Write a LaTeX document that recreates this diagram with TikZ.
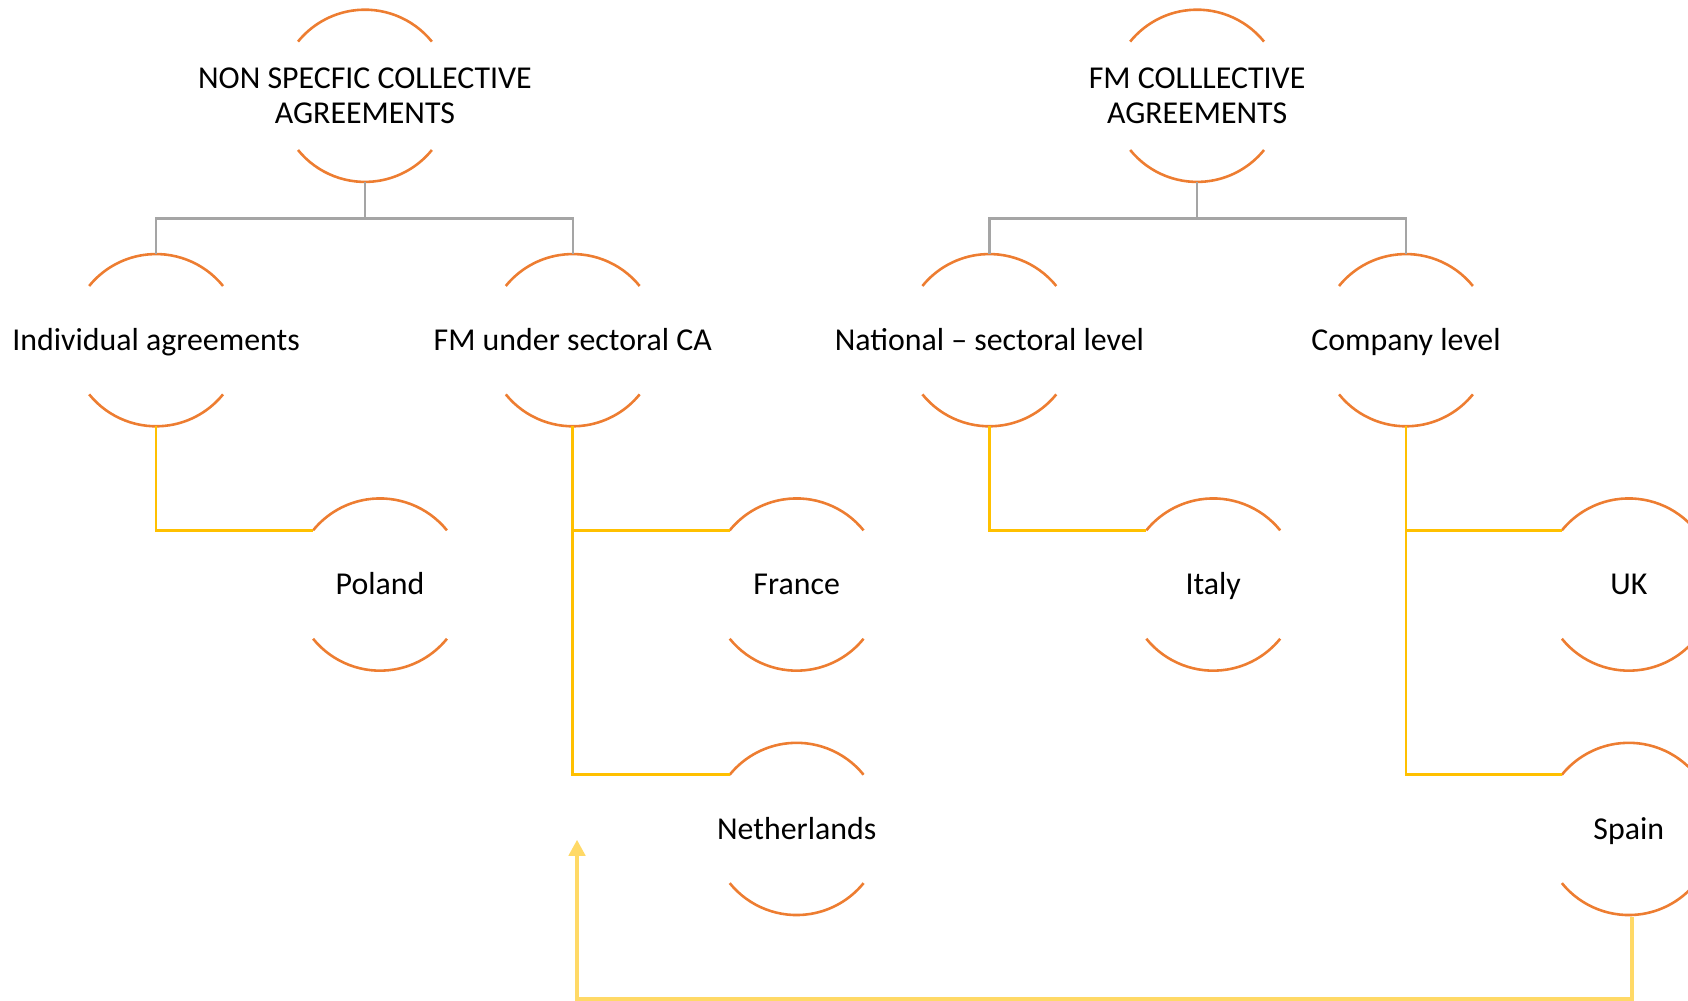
\documentclass[tikz,border=0pt]{standalone}
\usepackage{fontspec}
\setmainfont{Carlito}
\usetikzlibrary{arrows.meta, positioning}

\definecolor{arcorange}{HTML}{ED7D31}
\definecolor{linegray}{HTML}{A5A5A5}
\definecolor{lineyellow}{HTML}{FFC000}
\definecolor{lightyellow}{HTML}{FFD966}

\tikzset{
  ring/.style={circle, minimum size=80pt, inner sep=0pt, outer sep=0pt},
  head/.style={align=center, inner sep=0pt},
  txt/.style={align=center, inner sep=0pt, text height=12pt, text depth=2.6pt},
  arcline/.style={arcorange, line width=1.2pt},
  grayline/.style={linegray, line width=1.1pt},
  yline/.style={lineyellow, line width=1.25pt},
  backarrow/.style={lightyellow, line width=2pt, -{Triangle[width=7.5pt, length=7.5pt]}}
}

\begin{document}
\begin{tikzpicture}[x=0.5pt, y=-0.5pt, font=\fontsize{14.8}{16.5}\selectfont]
\useasboundingbox (0,0) rectangle (1568,929);

% Rings with their texts
\foreach \n/\x/\y/\s/\t in {
    nsc/339/89/head/{NON SPECFIC COLLECTIVE\\AGREEMENTS},
    fmc/1112/89/head/{FM COLLLECTIVE\\AGREEMENTS},
    ind/145/316/txt/{Individual agreements},
    sec/532/316/txt/{FM under sectoral CA},
    nat/919/316/txt/{National -- sectoral level},
    com/1306/316/txt/{Company level},
    pol/353/543/txt/{Poland},
    fra/740/543/txt/{France},
    ita/1127/543/txt/{Italy},
    uk/1513/543/txt/{UK},
    ned/740/770/txt/{Netherlands},
    spa/1513/770/txt/{Spain}} {
    \node[ring] (\n) at (\x,\y) {};
    \node[\s] (\n-t) at (\n) {\t};
    \draw[arcline] (\n.39) arc[start angle=39, end angle=141, radius=40pt];
    \draw[arcline] (\n.219) arc[start angle=219, end angle=321, radius=40pt];
}

% Top level branches
\draw[grayline] (nsc.south) -- ++(0,34) -| (ind.north);
\draw[grayline] (nsc.south) -- ++(0,34) -| (sec.north);
\draw[grayline] (fmc.south) -- ++(0,34) -| (nat.north);
\draw[grayline] (fmc.south) -- ++(0,34) -| (com.north);

% Countries
\draw[yline] (ind.south) |- (pol.141);
\draw[yline] (sec.south) |- (fra.141);
\draw[yline] (sec.south) |- (ned.141);
\draw[yline] (nat.south) |- (ita.141);
\draw[yline] (com.south) |- (uk.141);
\draw[yline] (com.south) |- (spa.141);

% Back arrow
\coordinate (tip) at (536,780);
\draw[backarrow] ([xshift=1.5pt, yshift=-1pt]spa.south) -- ++(0,76) -| (tip);

\end{tikzpicture}
\end{document}
